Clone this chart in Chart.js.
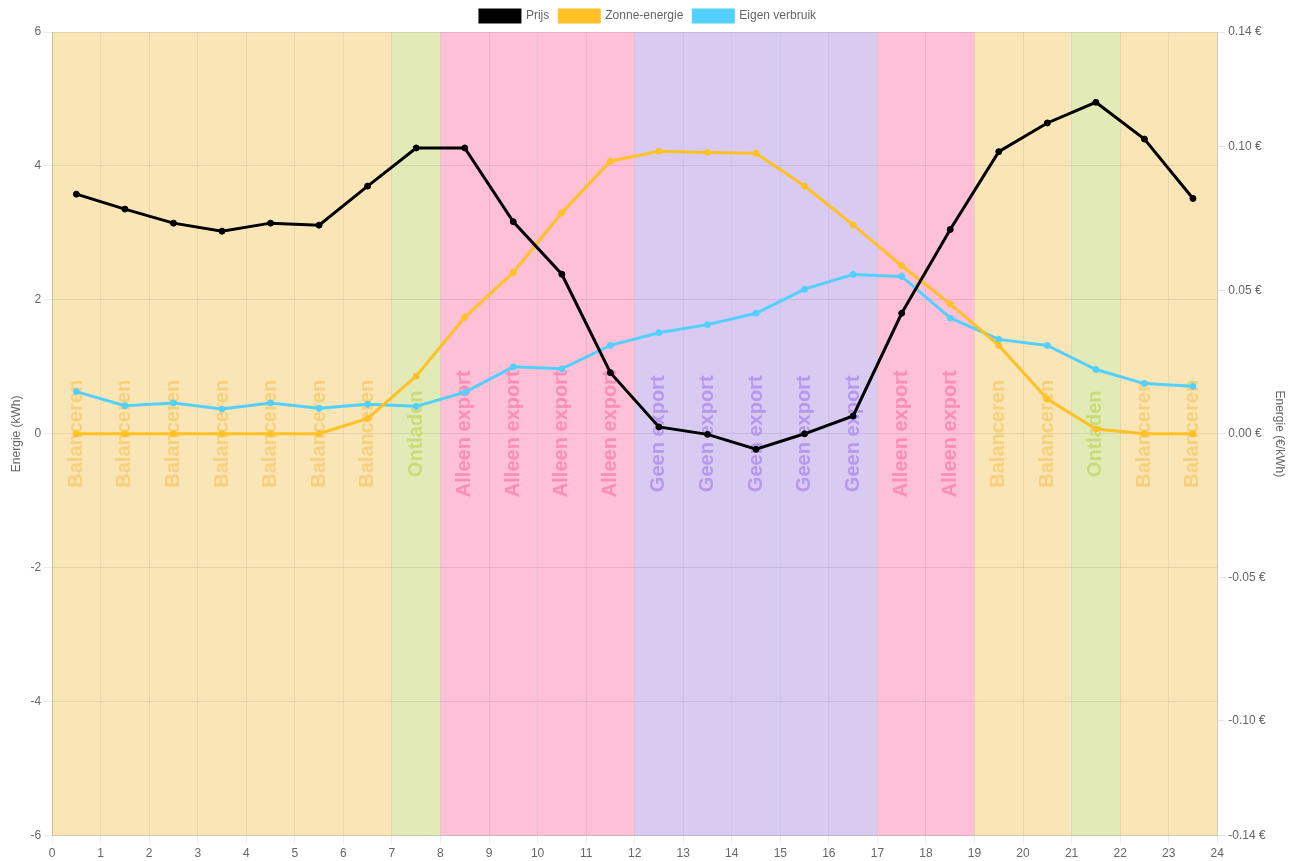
<!DOCTYPE html>
<html>
<head>
<meta charset="utf-8">
<style>
  html, body { margin: 0; padding: 0; background: #fff; overflow: hidden; }
  #wrap { width: 1291px; height: 864px; }
</style>
<script src="https://cdn.jsdelivr.net/npm/chart.js@4/dist/chart.umd.min.js"></script>
</head>
<body>
<div id="wrap"><canvas id="c" width="1291" height="864"></canvas></div>
<script>
const hours = [0,1,2,3,4,5,6,7,8,9,10,11,12,13,14,15,16,17,18,19,20,21,22,23];
const modes = ['Balanceren','Balanceren','Balanceren','Balanceren','Balanceren','Balanceren','Balanceren',
  'Ontladen','Alleen export','Alleen export','Alleen export','Alleen export',
  'Geen export','Geen export','Geen export','Geen export','Geen export',
  'Alleen export','Alleen export','Balanceren','Balanceren','Ontladen','Balanceren','Balanceren'];
const prijs = [0.0835,0.0783,0.0734,0.0706,0.0734,0.0727,0.0863,0.0996,0.0996,0.0739,0.0556,0.0213,
  0.0024,-0.0002,-0.0054,0.0000,0.0062,0.0420,0.0712,0.0983,0.1083,0.1155,0.1027,0.0820];
const zonne = [0,0,0,0,0,0,0.23,0.86,1.74,2.41,3.30,4.07,4.22,4.20,4.19,3.70,3.12,2.51,1.94,1.32,0.52,0.07,0,0];
const eigen = [0.63,0.42,0.46,0.37,0.46,0.38,0.44,0.41,0.62,1.00,0.97,1.32,1.51,1.63,1.80,2.16,2.38,2.35,1.73,1.41,1.32,0.96,0.75,0.71];

const modeFill = {
  'Balanceren': '#f9e5b6',
  'Ontladen': '#e2eab8',
  'Alleen export': '#fdc0d6',
  'Geen export': '#d9caf2'
};
const modeText = {
  'Balanceren': '#f7d07c',
  'Ontladen': '#c8dc78',
  'Alleen export': '#fb8db6',
  'Geen export': '#b698ec'
};

const pts = arr => arr.map((v, i) => ({ x: hours[i] + 0.5, y: v }));

const bandsPlugin = {
  id: 'bands',
  beforeDraw(chart) {
    const { ctx, chartArea: a, scales: { x } } = chart;
    ctx.save();
    hours.forEach((h, i) => {
      const x0 = x.getPixelForValue(h), x1 = x.getPixelForValue(h + 1);
      ctx.fillStyle = modeFill[modes[i]];
      ctx.fillRect(x0, a.top, x1 - x0, a.bottom - a.top);
    });
    ctx.restore();
  },
  beforeDatasetsDraw(chart) {
    const { ctx, chartArea: a, scales: { x } } = chart;
    const cy = (a.top + a.bottom) / 2;
    ctx.save();
    ctx.font = 'bold 20px "Liberation Sans", Arial, sans-serif';
    ctx.textAlign = 'center';
    ctx.textBaseline = 'middle';
    hours.forEach((h, i) => {
      const cx = x.getPixelForValue(h + 0.5);
      ctx.save();
      ctx.translate(cx, cy);
      ctx.rotate(-Math.PI / 2);
      ctx.fillStyle = modeText[modes[i]];
      ctx.fillText(modes[i], 0, 0);
      ctx.restore();
    });
    ctx.restore();
  }
};

Chart.defaults.font.family = '"Liberation Sans", Arial, sans-serif';
Chart.defaults.color = '#666';

const lineStyle = { borderWidth: 3, pointRadius: 3, pointBorderWidth: 1, tension: 0 };
const gridColor = 'rgba(0,0,0,0.08)';

new Chart(document.getElementById('c'), {
  type: 'line',
  data: {
    datasets: [
      Object.assign({ label: 'Prijs', data: pts(prijs), yAxisID: 'y1', borderColor: '#000', backgroundColor: '#000' }, lineStyle),
      Object.assign({ label: 'Zonne-energie', data: pts(zonne), yAxisID: 'y', borderColor: 'rgb(255,193,37)', backgroundColor: 'rgb(255,193,37)' }, lineStyle),
      Object.assign({ label: 'Eigen verbruik', data: pts(eigen), yAxisID: 'y', borderColor: 'rgb(84,208,255)', backgroundColor: 'rgb(84,208,255)' }, lineStyle)
    ]
  },
  options: {
    responsive: false,
    animation: false,
    layout: { padding: { left: 5 } },
    plugins: {
      legend: { labels: { boxWidth: 40, boxHeight: 12, font: { size: 12 } } },
      tooltip: { enabled: false }
    },
    scales: {
      x: { type: 'linear', min: 0, max: 24, ticks: { stepSize: 1 }, grid: { color: gridColor } },
      y: { position: 'left', min: -6, max: 6, ticks: { stepSize: 2 }, grid: { color: gridColor },
           title: { display: true, text: 'Energie (kWh)' } },
      y1: { position: 'right', min: -0.14, max: 0.14, ticks: { stepSize: 0.05, callback: v => v.toFixed(2) + ' €' },
            grid: { drawOnChartArea: false },
            title: { display: true, text: 'Energie (€/kWh)' } }
    }
  },
  plugins: [bandsPlugin]
});
</script>
</body>
</html>
